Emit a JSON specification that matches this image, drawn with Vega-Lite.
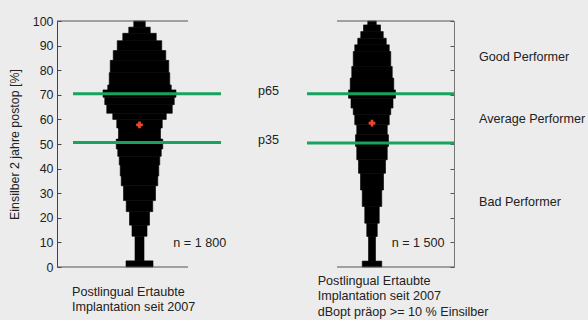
{
  "$schema": "https://vega.github.io/schema/vega-lite/v6.json",
  "width": 397,
  "height": 246,
  "autosize": "none",
  "padding": {"left": 57, "top": 21, "right": 134, "bottom": 53},
  "background": "#ececec",
  "config": {
    "view": {"stroke": null},
    "font": "Liberation Sans",
    "text": {"font": "Liberation Sans"}
  },
  "datasets": {
    "left": [
      {"lo": 0, "hi": 2.5, "w": 27}, {"lo": 2.5, "hi": 12.5, "w": 9}, {"lo": 12.5, "hi": 17, "w": 15},
      {"lo": 17, "hi": 22.5, "w": 20}, {"lo": 22.5, "hi": 27, "w": 26.5}, {"lo": 27, "hi": 33, "w": 32},
      {"lo": 33, "hi": 37, "w": 36.5}, {"lo": 37, "hi": 41.5, "w": 38.5}, {"lo": 41.5, "hi": 45, "w": 40.5},
      {"lo": 45, "hi": 48, "w": 43.5}, {"lo": 48, "hi": 52, "w": 46.5}, {"lo": 52, "hi": 56.5, "w": 42},
      {"lo": 56.5, "hi": 60, "w": 45.5}, {"lo": 60, "hi": 62.5, "w": 53.5}, {"lo": 62.5, "hi": 66, "w": 65.5},
      {"lo": 66, "hi": 69, "w": 69.5}, {"lo": 69, "hi": 72, "w": 73}, {"lo": 72, "hi": 74, "w": 63.5},
      {"lo": 74, "hi": 79, "w": 60.5}, {"lo": 79, "hi": 84, "w": 58.5}, {"lo": 84, "hi": 88, "w": 52.5},
      {"lo": 88, "hi": 92, "w": 44.5}, {"lo": 92, "hi": 95, "w": 33.5}, {"lo": 95, "hi": 97.5, "w": 21.5},
      {"lo": 97.5, "hi": 100, "w": 11.5}
    ],
    "right": [
      {"lo": 0, "hi": 2.4, "w": 19.5}, {"lo": 2.4, "hi": 12.4, "w": 7}, {"lo": 12.4, "hi": 17.8, "w": 10.5},
      {"lo": 17.8, "hi": 24.6, "w": 14.5}, {"lo": 24.6, "hi": 31.3, "w": 19.5}, {"lo": 31.3, "hi": 38.1, "w": 23},
      {"lo": 38.1, "hi": 43.6, "w": 27}, {"lo": 43.6, "hi": 49, "w": 30.5}, {"lo": 49, "hi": 53.8, "w": 33},
      {"lo": 53.8, "hi": 57.8, "w": 30.5}, {"lo": 57.8, "hi": 61.9, "w": 34.5}, {"lo": 61.9, "hi": 64.6, "w": 37.5},
      {"lo": 64.6, "hi": 68.6, "w": 42}, {"lo": 68.6, "hi": 72, "w": 47}, {"lo": 72, "hi": 76.8, "w": 43.5},
      {"lo": 76.8, "hi": 81.5, "w": 40.5}, {"lo": 81.5, "hi": 87.6, "w": 37.5}, {"lo": 87.6, "hi": 90.3, "w": 34.5},
      {"lo": 90.3, "hi": 93, "w": 28.5}, {"lo": 93, "hi": 95.7, "w": 22.5}, {"lo": 95.7, "hi": 98.4, "w": 17},
      {"lo": 98.4, "hi": 100, "w": 8.5}
    ],
    "frame": [
      {"pos": 0, "pos2": 131, "v": 100}, {"pos": 0, "pos2": 131, "v": 0},
      {"pos": 280, "pos2": 397, "v": 100}, {"pos": 280, "pos2": 397, "v": 0}
    ],
    "percentiles": [
      {"pos": 16, "pos2": 164, "v": 70.4}, {"pos": 16, "pos2": 164, "v": 50.6},
      {"pos": 250, "pos2": 397, "v": 70.4}, {"pos": 250, "pos2": 397, "v": 50.4}
    ],
    "means": [
      {"pos": 82.5, "v": 57.8}, {"pos": 315, "v": 58.5}
    ],
    "labels": [
      {"pos": 201, "v": 71.7, "label": "p65"},
      {"pos": 201, "v": 51.6, "label": "p35"},
      {"pos": 422, "v": 85.2, "label": "Good Performer"},
      {"pos": 422, "v": 60, "label": "Average Performer"},
      {"pos": 422, "v": 26.5, "label": "Bad Performer"},
      {"pos": 116.3, "v": 9.6, "label": "n = 1 800"},
      {"pos": 334.7, "v": 9.6, "label": "n = 1 500"},
      {"pos": 15, "v": -10.2, "label": "Postlingual Ertaubte"},
      {"pos": 15, "v": -16.3, "label": "Implantation seit 2007"},
      {"pos": 260.7, "v": -5.7, "label": "Postlingual Ertaubte"},
      {"pos": 260.7, "v": -11.8, "label": "Implantation seit 2007"},
      {"pos": 260.7, "v": -18.3, "label": "dBopt präop >= 10 % Einsilber"}
    ]
  },
  "resolve": {"scale": {"x": "independent"}, "axis": {"y": "independent"}},
  "layer": [
    {
      "data": {"name": "left"},
      "transform": [
        {"calculate": "-datum.w / 2", "as": "xa"},
        {"calculate": "datum.w / 2", "as": "xb"}
      ],
      "mark": {"type": "bar", "color": "#000000", "stroke": "#000000", "strokeWidth": 0.6},
      "encoding": {
        "x": {"field": "xa", "type": "quantitative", "axis": null,
              "scale": {"domain": [-82.5, 314.5], "nice": false, "zero": false}},
        "x2": {"field": "xb"},
        "y": {"field": "lo", "type": "quantitative",
              "scale": {"domain": [0, 100], "nice": false},
              "axis": {"orient": "left", "values": [0, 10, 20, 30, 40, 50, 60, 70, 80, 90, 100],
                       "grid": false, "tickSize": -4, "labelPadding": 8, "domainColor": "#444444",
                       "tickColor": "#444444", "labelFont": "Liberation Sans", "labelFontSize": 12.4,
                       "labelColor": "#222222", "title": "Einsilber 2 jahre postop [%]",
                       "titleFont": "Liberation Sans", "titleFontSize": 12.4, "titleFontWeight": "normal",
                       "titleColor": "#222222", "titlePadding": 11}},
        "y2": {"field": "hi"}
      }
    },
    {
      "data": {"name": "right"},
      "transform": [
        {"calculate": "-datum.w / 2", "as": "xa"},
        {"calculate": "datum.w / 2", "as": "xb"}
      ],
      "mark": {"type": "bar", "color": "#000000", "stroke": "#000000", "strokeWidth": 0.6},
      "encoding": {
        "x": {"field": "xa", "type": "quantitative", "axis": null,
              "scale": {"domain": [-315, 82], "nice": false, "zero": false}},
        "x2": {"field": "xb"},
        "y": {"field": "lo", "type": "quantitative",
              "scale": {"domain": [0, 100], "nice": false},
              "axis": {"orient": "right", "values": [0, 10, 20, 30, 40, 50, 60, 70, 80, 90, 100],
                       "grid": false, "tickSize": -4, "labels": false, "domainColor": "#777777",
                       "tickColor": "#555555", "title": null}},
        "y2": {"field": "hi"}
      }
    },
    {
      "layer": [
        {
          "data": {"name": "frame"},
          "mark": {"type": "rule", "color": "#555555", "strokeWidth": 1},
          "encoding": {
            "x": {"field": "pos", "type": "quantitative", "axis": null,
                  "scale": {"domain": [0, 397], "nice": false, "zero": false}},
            "x2": {"field": "pos2"},
            "y": {"field": "v", "type": "quantitative", "axis": null,
                  "scale": {"domain": [0, 100], "nice": false}}
          }
        },
        {
          "data": {"name": "percentiles"},
          "mark": {"type": "rule", "color": "#17a35e", "strokeWidth": 3},
          "encoding": {
            "x": {"field": "pos", "type": "quantitative", "axis": null,
                  "scale": {"domain": [0, 397], "nice": false, "zero": false}},
            "x2": {"field": "pos2"},
            "y": {"field": "v", "type": "quantitative", "axis": null,
                  "scale": {"domain": [0, 100], "nice": false}}
          }
        },
        {
          "data": {"name": "means"},
          "mark": {"type": "point", "shape": "cross", "filled": true, "color": "#e84a27", "size": 45, "opacity": 1},
          "encoding": {
            "x": {"field": "pos", "type": "quantitative", "axis": null,
                  "scale": {"domain": [0, 397], "nice": false, "zero": false}},
            "y": {"field": "v", "type": "quantitative", "axis": null,
                  "scale": {"domain": [0, 100], "nice": false}}
          }
        },
        {
          "data": {"name": "labels"},
          "mark": {"type": "text", "align": "left", "baseline": "middle", "fontSize": 12.6,
                   "font": "Liberation Sans", "color": "#222222"},
          "encoding": {
            "x": {"field": "pos", "type": "quantitative", "axis": null,
                  "scale": {"domain": [0, 397], "nice": false, "zero": false}},
            "y": {"field": "v", "type": "quantitative", "axis": null,
                  "scale": {"domain": [0, 100], "nice": false}},
            "text": {"field": "label", "type": "nominal"}
          }
        }
      ]
    }
  ]
}
